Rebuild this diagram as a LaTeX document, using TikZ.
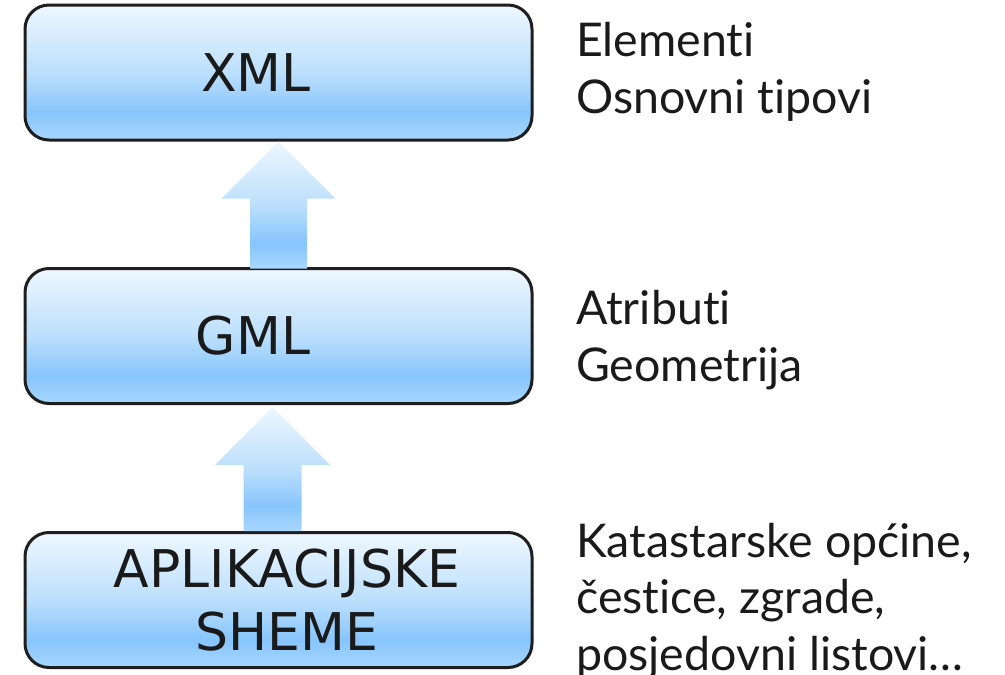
\documentclass[tikz,border=0pt]{standalone}
\usepackage{fontspec}
\setmainfont{Lato}[Ligatures=CommonOff]
\newfontfamily\boxfont{DejaVu Sans}
\usetikzlibrary{calc}
\definecolor{gTop}{HTML}{EEF7FF}
\definecolor{gMid}{HTML}{BCDFFC}
\definecolor{gDeep}{HTML}{86C5FC}
\definecolor{gBot}{HTML}{A9D7FD}
\definecolor{edge}{HTML}{1E1E1E}
\definecolor{ink}{HTML}{1A1A1A}
\pgfdeclareverticalshading{layershade}{100bp}{color(0bp)=(gBot); color(25bp)=(gBot); color(35bp)=(gDeep); color(50bp)=(gMid); color(75bp)=(gTop); color(100bp)=(gTop)}
\tikzset{
  layerbox/.style={draw=edge, line width=3pt, rounded corners=24pt, shading=layershade,
    minimum width=507pt, minimum height=135pt, inner sep=0pt,
    font=\boxfont\fontsize{52}{63}\selectfont, text=ink, align=center},
  arrowfill/.style={shading=layershade, draw=none},
  sidetext/.style={font=\fontsize{46.5}{56.5}\selectfont, align=left, inner sep=0pt, text=ink, anchor=base west}
}
\begin{document}
\begin{tikzpicture}[x=1pt,y=-1pt]
\useasboundingbox (0,0) rectangle (1005,675);
\node[layerbox] (xml) at (278.5,72.5) {XML\hspace*{45pt}};
\node[layerbox] (gml) at (278.5,336) {GML\hspace*{51pt}};
\node[layerbox] (apl) at (278.5,600) {\hspace*{17pt}APLIKACIJSKE\\\hspace*{17pt}SHEME};
% arrow GML -> XML
\coordinate (a1t) at (xml.south);
\coordinate (a1b) at ($(gml.north)+(0,1.5)$);
\path[arrowfill] ($(a1b)+(-28.5,0)$) -- ($(a1b)+(28.5,0)$) -- ($(a1t)+(28.5,57)$) -- ($(a1t)+(57,57)$)
  -- (a1t) -- ($(a1t)+(-57,57)$) -- ($(a1t)+(-28.5,57)$) -- cycle;
% arrow APL -> GML
\coordinate (a2t) at ($(gml.south)+(-6,2)$);
\coordinate (a2b) at ($(apl.north)+(-6,0)$);
\path[arrowfill] ($(a2b)+(-29,0)$) -- ($(a2b)+(29,0)$) -- ($(a2t)+(29,58)$) -- ($(a2t)+(57.5,58)$)
  -- (a2t) -- ($(a2t)+(-57.5,58)$) -- ($(a2t)+(-29,58)$) -- cycle;
\node[sidetext] (t1) at (576,113) {Elementi\\Osnovni tipovi};
\node[sidetext] (t2) at (576,381) {Atributi\\Geometrija};
\node[sidetext] (t3) at (576,670) {Katastarske općine,\\čestice, zgrade,\\posjedovni listovi…};
\end{tikzpicture}
\end{document}
